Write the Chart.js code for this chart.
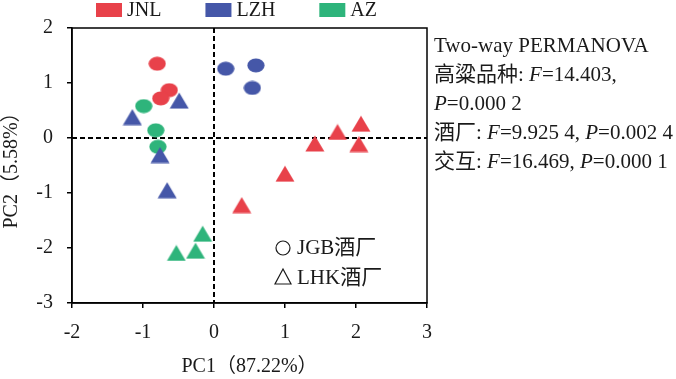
<!DOCTYPE html>
<html>
<head>
<meta charset="utf-8">
<script src="https://cdn.jsdelivr.net/npm/chart.js@4/dist/chart.umd.min.js"></script>
<style>
  html, body { margin: 0; padding: 0; background: #fff; }
  #wrap { width: 676px; height: 379px; }
</style>
</head>
<body>
<div id="wrap"><canvas id="pca"></canvas></div>
<script>
// sample groups (sorghum variety) and distilleries
const groups = ["JNL", "LZH", "AZ"];
const groupColors = ["#E8414A", "#4557A8", "#2EB47B"];
const plants = ["JGB酒厂", "LHK酒厂"];

// PC1 / PC2 scores
const jnlJgbX = [-0.80, -0.63, -0.75];
const jnlJgbY = [1.35, 0.87, 0.72];
const lzhJgbX = [0.165, 0.59, 0.54];
const lzhJgbY = [1.26, 1.32, 0.91];
const azJgbX = [-0.99, -0.82, -0.79];
const azJgbY = [0.58, 0.14, -0.16];
const jnlLhkX = [2.07, 1.74, 1.42, 2.04, 1.00, 0.39];
const jnlLhkY = [0.26, 0.11, -0.10, -0.11, -0.65, -1.22];
const lzhLhkX = [-0.49, -1.15, -0.76, -0.66];
const lzhLhkY = [0.68, 0.38, -0.31, -0.95];
const azLhkX = [-0.16, -0.26, -0.53];
const azLhkY = [-1.74, -2.05, -2.09];

const xTicks = [-2, -1, 0, 1, 2, 3];
const yTicks = [-3, -2, -1, 0, 1, 2];

// PERMANOVA text, [text, italic] runs per line
const statLines = [
    [["Two-way PERMANOVA", false]],
    [["高粱品种: ", false], ["F", true], ["=14.403,", false]],
    [["P", true], ["=0.000 2", false]],
    [["酒厂: ", false], ["F", true], ["=9.925 4, ", false], ["P", true], ["=0.002 4", false]],
    [["交互: ", false], ["F", true], ["=16.469, ", false], ["P", true], ["=0.000 1", false]]
];

const FONT = "'Liberation Serif', 'Noto Sans CJK SC', serif";

function ellipse(color) {
    const c = document.createElement('canvas');
    c.width = 18; c.height = 15;
    const g = c.getContext('2d');
    g.fillStyle = color;
    g.beginPath();
    g.ellipse(9, 7.5, 8.6, 7.1, 0, 0, Math.PI * 2);
    g.fill();
    return c;
}

function triangle(color) {
    const c = document.createElement('canvas');
    c.width = 20; c.height = 17;
    const g = c.getContext('2d');
    g.fillStyle = color;
    g.beginPath();
    g.moveTo(10, 0.5);
    g.lineTo(19.5, 16.5);
    g.lineTo(0.5, 16.5);
    g.closePath();
    g.fill();
    return c;
}

function pts(xs, ys) {
    return xs.map((x, i) => ({x: x, y: ys[i]}));
}

function ds(label, xs, ys, ci, shape) {
    const img = shape === 'circle' ? ellipse(groupColors[ci]) : triangle(groupColors[ci]);
    return {
        label: label,
        data: pts(xs, ys),
        pointStyle: img,
        backgroundColor: groupColors[ci],
        pointRadius: 9,
        pointHoverRadius: 9
    };
}

const zeroLines = {
    id: 'zeroLines',
    beforeDatasetsDraw(chart) {
        const ctx = chart.ctx, a = chart.chartArea;
        const x0 = chart.scales.x.getPixelForValue(0);
        const y0 = chart.scales.y.getPixelForValue(0);
        ctx.save();
        ctx.strokeStyle = '#000';
        ctx.lineWidth = 2;
        ctx.setLineDash([5, 3]);
        ctx.beginPath();
        ctx.moveTo(x0, a.top); ctx.lineTo(x0, a.bottom);
        ctx.moveTo(a.left, y0); ctx.lineTo(a.right, y0);
        ctx.stroke();
        ctx.setLineDash([]);
        ctx.lineWidth = 1.5;
        ctx.strokeRect(a.left, a.top, a.right - a.left, a.bottom - a.top);
        ctx.restore();
    }
};

const notes = {
    id: 'notes',
    afterDraw(chart) {
        const ctx = chart.ctx, a = chart.chartArea;
        ctx.save();
        ctx.textBaseline = 'middle';
        ctx.fillStyle = '#1a1a1a';

        // top legend
        ctx.font = '20px ' + FONT;
        let x = 96;
        groups.forEach((g, i) => {
            ctx.fillStyle = groupColors[i];
            ctx.fillRect(x, 3, 26, 14);
            ctx.fillStyle = '#1a1a1a';
            ctx.textAlign = 'left';
            ctx.fillText(g, x + 31, 11);
            x += 31 + ctx.measureText(g).width + 44;
        });

        // statistics block
        statLines.forEach((line, i) => {
            let lx = a.right + 7;
            const ly = 46 + i * 29;
            line.forEach(run => {
                ctx.font = (run[1] ? 'italic ' : '') + '21px ' + FONT;
                ctx.fillText(run[0], lx, ly);
                lx += ctx.measureText(run[0]).width;
            });
        });

        // distillery key
        ctx.strokeStyle = '#1a1a1a';
        ctx.lineWidth = 1.2;
        ctx.font = '21px ' + FONT;
        ctx.beginPath();
        ctx.arc(283, 248, 7, 0, Math.PI * 2);
        ctx.stroke();
        ctx.beginPath();
        ctx.moveTo(283, 269); ctx.lineTo(291, 284); ctx.lineTo(275, 284);
        ctx.closePath();
        ctx.stroke();
        ctx.fillText(plants[0], 297, 248);
        ctx.fillText(plants[1], 297, 278);
        ctx.restore();
    }
};

new Chart(document.getElementById('pca'), {
    type: 'scatter',
    data: {
        datasets: [
            ds('LZH-LHK', lzhLhkX, lzhLhkY, 1, 'tri'),
            ds('JNL-JGB', jnlJgbX, jnlJgbY, 0, 'circle'),
            ds('AZ-JGB', azJgbX, azJgbY, 2, 'circle'),
            ds('LZH-JGB', lzhJgbX, lzhJgbY, 1, 'circle'),
            ds('JNL-LHK', jnlLhkX, jnlLhkY, 0, 'tri'),
            ds('AZ-LHK', azLhkX, azLhkY, 2, 'tri')
        ]
    },
    options: {
        responsive: true,
        maintainAspectRatio: false,
        animation: false,
        layout: {padding: {top: 28, right: 249, left: 0, bottom: 0}},
        plugins: {
            legend: {display: false},
            tooltip: {enabled: false}
        },
        scales: {
            x: {
                type: 'linear',
                min: -2,
                max: 3,
                afterBuildTicks: s => { s.ticks = xTicks.map(v => ({value: v})); },
                afterFit: s => { s.height = 76; },
                ticks: {font: {family: FONT, size: 20}, color: '#1a1a1a', padding: 13},
                grid: {drawOnChartArea: false, drawTicks: true, tickLength: 5, color: '#000', lineWidth: 1.5},
                border: {display: true, color: '#000', width: 1.5},
                title: {display: true, text: 'PC1（87.22%）', font: {family: FONT, size: 20}, color: '#1a1a1a', padding: {top: 0, bottom: 0}}
            },
            y: {
                type: 'linear',
                min: -3,
                max: 2,
                afterBuildTicks: s => { s.ticks = yTicks.map(v => ({value: v})); },
                afterFit: s => { s.width = 72; },
                ticks: {font: {family: FONT, size: 20}, color: '#1a1a1a', padding: 14},
                grid: {drawOnChartArea: false, drawTicks: true, tickLength: 5, color: '#000', lineWidth: 1.5},
                border: {display: true, color: '#000', width: 1.5},
                title: {display: true, text: 'PC2（5.58%）', font: {family: FONT, size: 20}, color: '#1a1a1a', padding: 0}
            }
        }
    },
    plugins: [zeroLines, notes]
});
</script>
</body>
</html>
